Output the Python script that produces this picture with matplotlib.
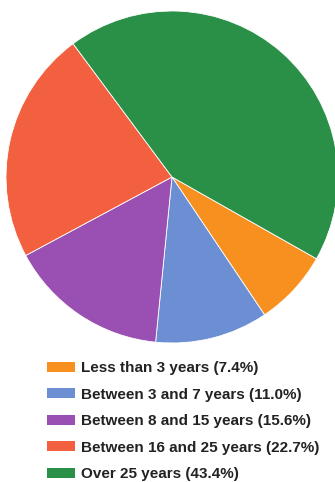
import matplotlib
matplotlib.use("Agg")
import matplotlib.pyplot as plt
from matplotlib.patches import Patch

categories = ["Less than 3 years", "Between 3 and 7 years", "Between 8 and 15 years",
              "Between 16 and 25 years", "Over 25 years"]
values = [7.4, 11.0, 15.6, 22.7, 43.4]
colors = ["#F7901F", "#6B8FD2", "#9A4FB2", "#F2603F", "#2A8F47"]
labels = [f"{c} ({v:.1f}%)" for c, v in zip(categories, values)]

W, H = 335, 482
fig = plt.figure(figsize=(W / 100, H / 100), dpi=100)
fig.patch.set_facecolor("white")

cx, cy, r = 172, 177, 166
ax = fig.add_axes([(cx - r) / W, (H - cy - r) / H, 2 * r / W, 2 * r / H])
ax.pie(values, colors=colors, startangle=-29.5, counterclock=False,
       wedgeprops=dict(edgecolor="white", linewidth=0.6), radius=1)
ax.set_xlim(-1, 1)
ax.set_ylim(-1, 1)
ax.set_aspect("equal")
ax.axis("off")

handles = [Patch(facecolor=c, edgecolor="none") for c in colors]
fs = 11
leg = fig.legend(handles, labels, loc="upper left",
                 bbox_to_anchor=(47 / W, 1 - 361 / H),
                 frameon=False,
                 prop=dict(family="Liberation Sans", weight="bold", size=fs),
                 handlelength=1.83, handleheight=0.65, handletextpad=0.4,
                 labelspacing=0.82, borderpad=0, borderaxespad=0)
for t in leg.get_texts():
    t.set_color("#222222")

fig.savefig("out.png", dpi=100)
